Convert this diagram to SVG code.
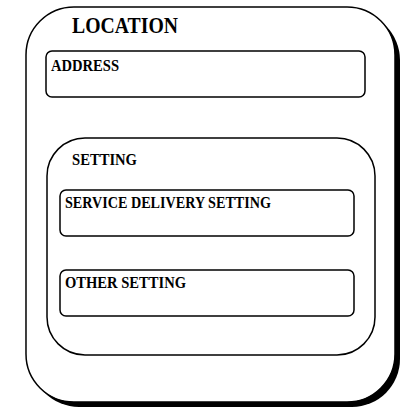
<svg xmlns="http://www.w3.org/2000/svg" width="402" height="410" viewBox="0 0 402 410">
<style>
.box{fill:#fff;stroke:#000;stroke-width:1.5}
.t{font-family:"Liberation Serif","Times New Roman",serif;font-weight:bold;fill:#000}
</style>
<rect width="402" height="410" fill="#fff"/>
<g id="location">
<rect x="31" y="12" width="369" height="395" rx="48" ry="48" fill="#000"/>
<rect class="box" x="26" y="7" width="369" height="395" rx="48" ry="48"/>
<text class="t" x="72" y="33" font-size="24" textLength="106" lengthAdjust="spacingAndGlyphs">LOCATION</text>
</g>
<g id="address">
<rect class="box" x="46" y="51" width="319" height="46" rx="6" ry="6"/>
<text class="t" x="51" y="71" font-size="17" textLength="68" lengthAdjust="spacingAndGlyphs">ADDRESS</text>
</g>
<g id="setting">
<rect class="box" x="47" y="138" width="328" height="217" rx="38" ry="38"/>
<text class="t" x="72" y="165" font-size="17" textLength="65" lengthAdjust="spacingAndGlyphs">SETTING</text>
</g>
<g id="service-delivery-setting">
<rect class="box" x="60" y="190" width="294" height="46" rx="6" ry="6"/>
<text class="t" x="65" y="208" font-size="16" textLength="206" lengthAdjust="spacingAndGlyphs">SERVICE DELIVERY SETTING</text>
</g>
<g id="other-setting">
<rect class="box" x="60" y="270" width="294" height="46" rx="6" ry="6"/>
<text class="t" x="65" y="288" font-size="16" textLength="121" lengthAdjust="spacingAndGlyphs">OTHER SETTING</text>
</g>
<g id="connectors"/>
</svg>
